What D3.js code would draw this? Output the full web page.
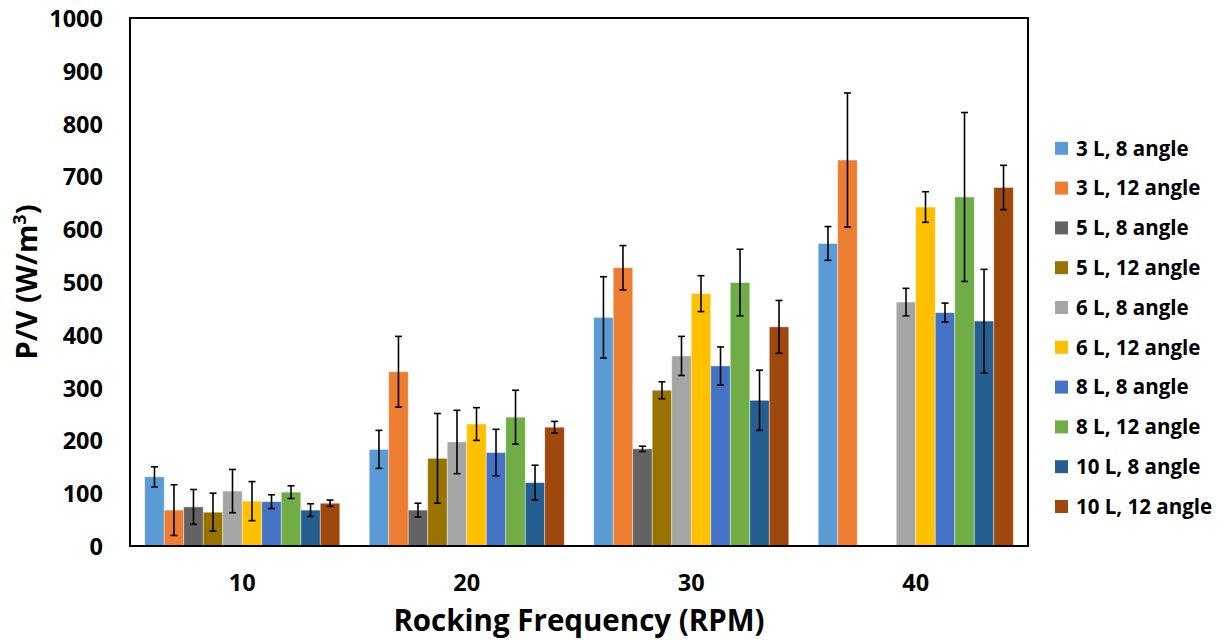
<!DOCTYPE html>
<html>
<head>
<meta charset="utf-8">
<script src="https://cdn.jsdelivr.net/npm/d3@7"></script>
<style>
  html, body { margin: 0; padding: 0; background: #fff; }
  svg { display: block; font-family: "Open Sans", Lato, sans-serif; font-weight: bold; }
</style>
</head>
<body>
<svg id="chart" width="1226" height="640"></svg>
<script>
/* P/V vs rocking frequency, grouped bars with error bars */

const categories = ["10", "20", "30", "40"];

const seriesNames = [
  "3 L, 8 angle", "3 L, 12 angle",
  "5 L, 8 angle", "5 L, 12 angle",
  "6 L, 8 angle", "6 L, 12 angle",
  "8 L, 8 angle", "8 L, 12 angle",
  "10 L, 8 angle", "10 L, 12 angle",
];

const seriesColors = [
  "#5B9BD5", "#ED7D31", "#636363", "#997300", "#A5A5A5",
  "#FFC000", "#4472C4", "#70AD47", "#255E91", "#9E480E",
];

// mean P/V per series, one entry per frequency (null = not measured)
const means = [
  [131, 183, 433, 573],
  [68, 330, 527, 731],
  [74, 68, 184, null],
  [64, 166, 295, null],
  [104, 197, 360, 462],
  [85, 231, 478, 642],
  [84, 177, 341, 442],
  [102, 244, 499, 661],
  [68, 120, 276, 426],
  [81, 225, 415, 679],
];

// error (+/-) per series
const errors = [
  [19, 36, 77, 32],
  [48, 67, 42, 127],
  [33, 13, 5, null],
  [36, 85, 16, null],
  [41, 60, 37, 26],
  [37, 31, 34, 29],
  [13, 44, 36, 18],
  [12, 51, 63, 160],
  [12, 33, 57, 98],
  [6, 11, 50, 42],
];

const yTicks = [0, 100, 200, 300, 400, 500, 600, 700, 800, 900, 1000];

const plot = { left: 130, right: 1028, top: 18, bottom: 546 };
const FONT = "'Open Sans', Lato, sans-serif";

const svg = d3.select("#chart");

const x0 = d3.scaleBand()
  .domain(categories)
  .range([plot.left, plot.right])
  .paddingInner(0.131)
  .paddingOuter(0.0655);

const x1 = d3.scaleBand()
  .domain(d3.range(seriesNames.length))
  .range([0, x0.bandwidth()]);

const y = d3.scaleLinear().domain([0, 1000]).range([plot.bottom, plot.top]);

// Bars
const rows = [];
means.forEach((arr, si) => {
  arr.forEach((v, ci) => {
    if (v == null) return;
    rows.push({ si, cat: categories[ci], v, e: errors[si][ci] });
  });
});

svg.append("g")
  .selectAll("rect")
  .data(rows)
  .join("rect")
  .attr("x", (d) => x0(d.cat) + x1(d.si))
  .attr("y", (d) => y(d.v))
  .attr("width", x1.bandwidth())
  .attr("height", (d) => y(0) - y(d.v))
  .attr("fill", (d) => seriesColors[d.si])
  .attr("stroke", "rgba(255,255,255,0.5)")
  .attr("stroke-width", 0.8);

// Error bars
const eg = svg.append("g").attr("stroke", "#000").attr("stroke-width", 1.6);
rows.forEach((d) => {
  const cx = x0(d.cat) + x1(d.si) + x1.bandwidth() / 2;
  const yt = y(d.v + d.e);
  const yb = y(d.v - d.e);
  eg.append("line").attr("x1", cx).attr("x2", cx).attr("y1", yt).attr("y2", yb);
  eg.append("line").attr("x1", cx - 3.5).attr("x2", cx + 3.5).attr("y1", yt).attr("y2", yt);
  eg.append("line").attr("x1", cx - 3.5).attr("x2", cx + 3.5).attr("y1", yb).attr("y2", yb);
});

// Plot frame
svg.append("rect")
  .attr("x", plot.left)
  .attr("y", plot.top)
  .attr("width", plot.right - plot.left)
  .attr("height", plot.bottom - plot.top)
  .attr("fill", "none")
  .attr("stroke", "#000")
  .attr("stroke-width", 2);

// Y axis labels
const yAxis = svg.append("g")
  .attr("transform", `translate(${plot.left},0)`)
  .call(d3.axisLeft(y).tickValues(yTicks).tickFormat(d3.format("d")).tickSize(0).tickPadding(27));
yAxis.select(".domain").remove();
yAxis.selectAll("text")
  .attr("font-family", FONT)
  .attr("font-weight", "bold")
  .attr("font-size", 23.5)
  .attr("fill", "#000")
  .attr("dy", "0.36em");

// X axis labels
const xAxis = svg.append("g")
  .attr("transform", `translate(0,${plot.bottom})`)
  .call(d3.axisBottom(x0).tickSize(0).tickPadding(28));
xAxis.select(".domain").remove();
xAxis.selectAll("text")
  .attr("font-family", FONT)
  .attr("font-weight", "bold")
  .attr("font-size", 23.5)
  .attr("fill", "#000");

// Axis titles
svg.append("text")
  .attr("x", 579)
  .attr("y", 631)
  .attr("text-anchor", "middle")
  .attr("font-size", 29.5)
  .attr("fill", "#000")
  .text("Rocking Frequency (RPM)");

const yt = svg.append("text")
  .attr("transform", `translate(37,${(plot.top + plot.bottom) / 2}) rotate(-90)`)
  .attr("text-anchor", "middle")
  .attr("font-size", 29)
  .attr("fill", "#000");
yt.append("tspan").text("P/V (W/m");
yt.append("tspan").attr("font-size", 18).attr("dy", -11).text("3");
yt.append("tspan").attr("dy", 11).text(")");

// Legend
const legend = svg.append("g");
seriesNames.forEach((name, i) => {
  const cy = 148.3 + i * 39.8;
  legend.append("rect")
    .attr("x", 1055)
    .attr("y", cy - 6.5)
    .attr("width", 13)
    .attr("height", 13)
    .attr("fill", seriesColors[i]);
  legend.append("text")
    .attr("x", 1076)
    .attr("y", cy)
    .attr("dy", "0.36em")
    .attr("font-size", 20.5)
    .attr("fill", "#000")
    .text(name);
});
</script>
</body>
</html>
